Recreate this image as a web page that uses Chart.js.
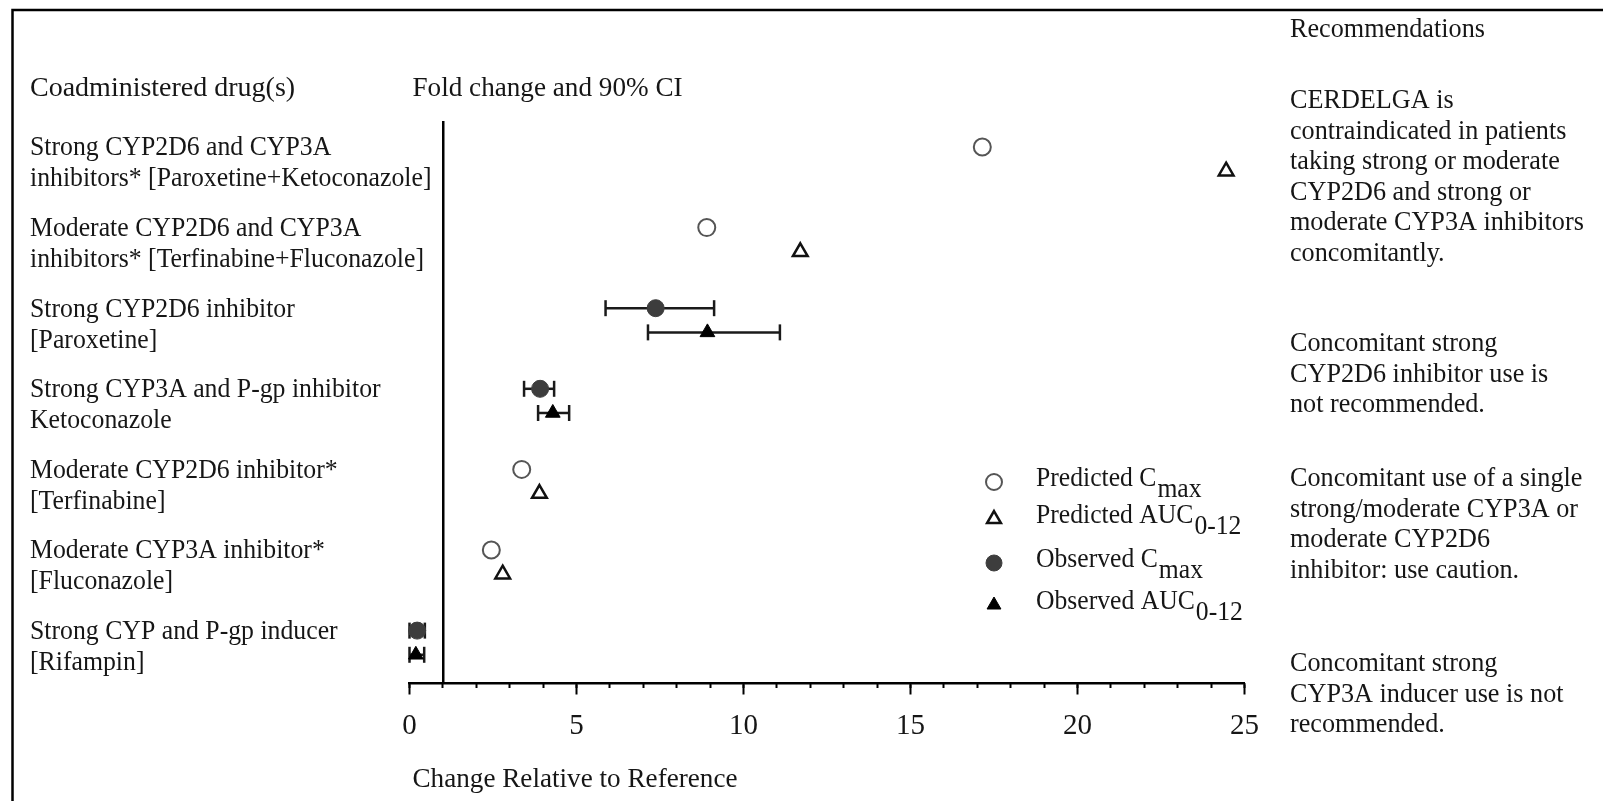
<!DOCTYPE html>
<html lang="en">
<head>
  <meta charset="UTF-8">
  <title>CERDELGA - Fold change and 90% CI</title>
  <script src="https://cdn.jsdelivr.net/npm/chart.js"></script>
  <style>
    html, body { margin: 0; padding: 0; background: #fff; }
    #wrap { width: 1603px; height: 801px; }
  </style>
</head>
<body>
  <div id="wrap"><canvas id="grafico" width="1603" height="801"></canvas></div>

  <script>
    // rows, top to bottom (each label on two lines)
    const drugs = [
      ['Strong CYP2D6 and CYP3A', 'inhibitors* [Paroxetine+Ketoconazole]'],
      ['Moderate CYP2D6 and CYP3A', 'inhibitors* [Terfinabine+Fluconazole]'],
      ['Strong CYP2D6 inhibitor', '[Paroxetine]'],
      ['Strong CYP3A and P-gp inhibitor', 'Ketoconazole'],
      ['Moderate CYP2D6 inhibitor*', '[Terfinabine]'],
      ['Moderate CYP3A inhibitor*', '[Fluconazole]'],
      ['Strong CYP and P-gp inducer', '[Rifampin]']
    ];

    // fold change values, one per row (null = not shown)
    const predCmax  = [17.15, 8.9, null, null, 3.36, 2.45, null];
    const predAuc   = [24.45, 11.7, null, null, 3.89, 2.79, null];
    const obsCmax   = [null, null, 7.37, 3.91, null, null, 0.23];
    const obsCmaxLo = [null, null, 5.87, 3.43, null, null, 0.0];
    const obsCmaxHi = [null, null, 9.12, 4.33, null, null, 0.46];
    const obsAuc    = [null, null, 8.92, 4.29, null, null, 0.19];
    const obsAucLo  = [null, null, 7.14, 3.85, null, null, 0.0];
    const obsAucHi  = [null, null, 11.09, 4.78, null, null, 0.44];

    const xTicks = [0, 5, 10, 15, 20, 25];
    const refLine = 1;

    const legendMain = ['Predicted C', 'Predicted AUC', 'Observed C', 'Observed AUC'];
    const legendSub  = ['max', '0-12', 'max', '0-12'];

    const recTitle = 'Recommendations';
    const recs = [
      ['CERDELGA is', 'contraindicated in patients', 'taking strong or moderate', 'CYP2D6 and strong or', 'moderate CYP3A inhibitors', 'concomitantly.'],
      ['Concomitant strong', 'CYP2D6 inhibitor use is', 'not recommended.'],
      ['Concomitant use of a single', 'strong/moderate CYP3A or', 'moderate CYP2D6', 'inhibitor: use caution.'],
      ['Concomitant strong', 'CYP3A inducer use is not', 'recommended.']
    ];

    const OFF = 0.15; // Cmax above, AUC below the row centre
    const FONT = '"Liberation Serif", "Times New Roman", serif';
    const INK = '#161616';

    const styles = [
      { pointStyle: 'circle',   pointRadius: 8.5, borderWidth: 2,   borderColor: '#555', backgroundColor: '#fff' },
      { pointStyle: 'triangle', pointRadius: 8.5, borderWidth: 2.5, borderColor: '#111', backgroundColor: '#fff' },
      { pointStyle: 'circle',   pointRadius: 8.5, borderWidth: 1,   borderColor: '#3d3d3d', backgroundColor: '#3d3d3d' },
      { pointStyle: 'triangle', pointRadius: 8.5, borderWidth: 1,   borderColor: '#000', backgroundColor: '#000' }
    ];

    function pts(vals, off) {
      const out = [];
      vals.forEach((v, i) => { if (v !== null) out.push({ x: v, y: i + 1 + off }); });
      return out;
    }

    function ciSets(lo, hi, off) {
      const out = [];
      lo.forEach((v, i) => {
        if (v === null) return;
        out.push({
          data: [{ x: v, y: i + 1 + off }, { x: hi[i], y: i + 1 + off }],
          showLine: true,
          borderColor: '#1a1a1a',
          borderWidth: 2.5,
          pointStyle: 'line',
          rotation: 90,
          pointRadius: 8,
          pointBorderWidth: 2.5,
          pointBorderColor: '#1a1a1a',
          clip: false,
          order: 2
        });
      });
      return out;
    }

    const series = [
      { label: 'Predicted Cmax', data: pts(predCmax, -OFF) },
      { label: 'Predicted AUC0-12', data: pts(predAuc, OFF) },
      { label: 'Observed Cmax', data: pts(obsCmax, -OFF) },
      { label: 'Observed AUC0-12', data: pts(obsAuc, OFF) }
    ].map((d, k) => Object.assign(d, styles[k], { clip: false, order: 1 }));

    function txt(ctx, s, x, y, size, sx) {
      ctx.save();
      ctx.font = size + 'px ' + FONT;
      ctx.fillStyle = INK;
      ctx.textBaseline = 'middle';
      ctx.translate(x, y);
      ctx.scale(sx || 1, 1);
      ctx.fillText(s, 0, 0);
      const w = ctx.measureText(s).width * (sx || 1);
      ctx.restore();
      return w;
    }

    // texts, legend and frame
    const decor = {
      id: 'decor',
      afterDraw(chart) {
        const ctx = chart.ctx;
        const xs = chart.scales.x, ys = chart.scales.y;

        ctx.save();
        ctx.strokeStyle = '#000';
        ctx.lineWidth = 2.5;
        ctx.beginPath();
        ctx.moveTo(12.5, 801);
        ctx.lineTo(12.5, 10);
        ctx.lineTo(1603, 10);
        ctx.stroke();
        ctx.restore();

        txt(ctx, 'Coadministered drug(s)', 30, 89, 28, 1);
        txt(ctx, 'Fold change and 90% CI', xs.left + 3, 89, 28, 0.97);
        txt(ctx, 'Change Relative to Reference', xs.left + 3, 780, 28, 0.97);

        drugs.forEach((lines, i) => {
          const y1 = ys.getPixelForValue(i + 1 - OFF) + 1;
          txt(ctx, lines[0], 30, y1, 28, 0.92);
          txt(ctx, lines[1], 30, y1 + 31, 28, 0.92);
        });

        // legend
        const lx = xs.getPixelForValue(17.5);
        const ly = [482, 519, 563, 605];
        legendMain.forEach((m, k) => {
          const st = styles[k];
          ctx.save();
          ctx.fillStyle = st.backgroundColor;
          ctx.strokeStyle = st.borderColor;
          ctx.lineWidth = st.borderWidth;
          Chart.helpers.drawPoint(ctx, { pointStyle: st.pointStyle, radius: 8, rotation: 0, borderWidth: st.borderWidth }, lx, ly[k]);
          ctx.restore();
          const w = txt(ctx, m, lx + 42, ly[k] - 3, 27, 0.95);
          txt(ctx, legendSub[k], lx + 42 + w + 1, ly[k] + 8, 27, 0.95);
        });

        // recommendations column
        const rx = 1290, lh = 30.6;
        txt(ctx, recTitle, rx, 30, 27, 0.97);
        const starts = [101, 344, 479, 664];
        recs.forEach((g, j) => {
          g.forEach((s, n) => txt(ctx, s, rx, starts[j] + n * lh, 27, 0.97));
        });
      }
    };

    new Chart(document.getElementById('grafico'), {
      type: 'scatter',
      data: {
        datasets: series.concat(
          ciSets(obsCmaxLo, obsCmaxHi, -OFF),
          ciSets(obsAucLo, obsAucHi, OFF)
        )
      },
      options: {
        responsive: false,
        devicePixelRatio: 1,
        animation: false,
        events: [],
        layout: { padding: { left: 409.5, right: 358.5, top: 122, bottom: 118 } },
        plugins: { legend: { display: false }, tooltip: { enabled: false } },
        scales: {
          x: {
            type: 'linear',
            min: 0, max: 25,
            position: { y: 7.5 },
            afterBuildTicks: s => { s.ticks = xTicks.map(v => ({ value: v })); },
            ticks: { padding: 16, color: INK, font: { family: FONT, size: 29 } },
            grid: { display: true, drawOnChartArea: false, tickLength: 10, tickWidth: 2, tickColor: '#000' },
            border: { display: true, color: '#000', width: 2.5 }
          },
          xMinor: {
            axis: 'x',
            type: 'linear',
            min: 0, max: 25,
            position: { y: 7.5 },
            ticks: { display: false, stepSize: 1 },
            grid: { display: true, drawOnChartArea: false, tickLength: 5, tickWidth: 2, tickColor: '#000' },
            border: { display: false }
          },
          y: {
            type: 'linear',
            reverse: true,
            min: 0.54, max: 7.5,
            position: { x: refLine },
            ticks: { display: false },
            grid: { display: false },
            border: { display: true, color: '#000', width: 2.5 }
          }
        }
      },
      plugins: [decor]
    });
  </script>
</body>
</html>
